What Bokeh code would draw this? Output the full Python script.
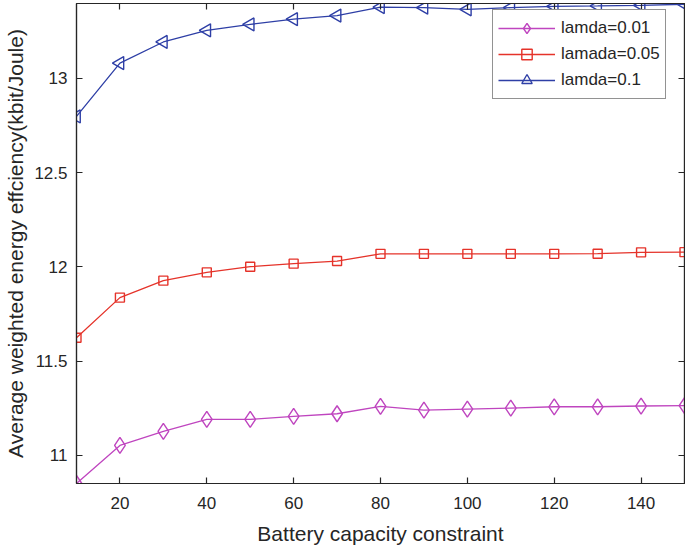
import math
from bokeh.plotting import figure
from bokeh.models import LinearAxis, Range1d, FixedTicker, Legend, LegendItem
from bokeh.embed import file_html
from bokeh.resources import INLINE

x = [10, 20, 30, 40, 50, 60, 70, 80, 90, 100, 110, 120, 130, 140, 150]
lam_001 = [10.851, 11.053, 11.127, 11.191, 11.191, 11.207, 11.221, 11.260, 11.240,
           11.246, 11.251, 11.258, 11.258, 11.262, 11.264]
lam_005 = [11.624, 11.837, 11.927, 11.971, 12.001, 12.017, 12.031, 12.069, 12.069,
           12.069, 12.069, 12.069, 12.070, 12.077, 12.078]
lam_01 = [12.798, 13.081, 13.193, 13.255, 13.286, 13.314, 13.333, 13.378, 13.375,
          13.366, 13.375, 13.382, 13.384, 13.387, 13.393]
x_ticks = [20, 40, 60, 80, 100, 120, 140]
y_ticks = [11, 11.5, 12, 12.5, 13]
y_tick_labels = {11: "11", 11.5: "11.5", 12: "12", 12.5: "12.5", 13: "13"}
names = ["lamda=0.01", "lamada=0.05", "lamda=0.1"]

MAG = "#BF45BF"
RED = "#E5332A"
BLUE = "#2E3FA6"
AX = "#262626"
FONT = "Liberation Sans"

p = figure(width=685, height=552, output_backend="svg", toolbar_location=None,
           x_range=Range1d(10, 150), y_range=Range1d(10.851, 13.397),
           min_border_left=76, min_border_right=1, min_border_top=3, min_border_bottom=69)
p.xgrid.visible = False
p.ygrid.visible = False
p.outline_line_color = AX
p.outline_line_width = 1.2
p.background_fill_color = "white"
p.border_fill_color = "white"

def style_axis(ax, labels=True):
    ax.axis_line_color = AX
    ax.axis_line_width = 1.2
    ax.major_tick_line_color = AX
    ax.major_tick_line_width = 1.2
    ax.major_tick_in = 6
    ax.major_tick_out = 0
    ax.minor_tick_line_color = None
    if labels:
        ax.major_label_text_font = FONT
        ax.major_label_text_font_size = "17px"
        ax.major_label_text_color = AX
        ax.axis_label_text_font = FONT
        ax.axis_label_text_font_size = "21px"
        ax.axis_label_text_font_style = "normal"
        ax.axis_label_text_color = AX
    else:
        ax.major_label_text_font_size = "1px"
        ax.major_label_standoff = 0

xa = p.xaxis[0]
xa.ticker = FixedTicker(ticks=x_ticks)
xa.axis_label = "Battery capacity constraint"
style_axis(xa)
xa.major_label_standoff = 13
xa.axis_label_standoff = 10

ya = p.yaxis[0]
ya.ticker = FixedTicker(ticks=y_ticks)
ya.major_label_overrides = y_tick_labels
ya.axis_label = "Average weighted energy effciency(kbit/Joule)"
style_axis(ya)
ya.major_label_standoff = 9
ya.axis_label_standoff = 4

top = LinearAxis(ticker=FixedTicker(ticks=x_ticks),
                 major_label_overrides={t: "" for t in x_ticks})
style_axis(top, labels=False)
p.add_layout(top, "above")
right = LinearAxis(ticker=FixedTicker(ticks=y_ticks),
                   major_label_overrides={t: "" for t in y_ticks})
style_axis(right, labels=False)
p.add_layout(right, "right")

r1l = p.line(x, lam_001, line_color=MAG, line_width=1.3)
r1m = p.scatter(x, lam_001, marker="diamond", size=16, fill_color=None,
                line_color=MAG, line_width=1.4)
r2l = p.line(x, lam_005, line_color=RED, line_width=1.3)
r2m = p.scatter(x, lam_005, marker="square", size=9, fill_color=None,
                line_color=RED, line_width=1.4)
r3l = p.line(x, lam_01, line_color=BLUE, line_width=1.3)
r3m = p.scatter(x, lam_01, marker="triangle", size=13, angle=math.pi / 2,
                fill_color=None, line_color=BLUE, line_width=1.4)

legend = Legend(items=[LegendItem(label=names[0], renderers=[r1l, r1m]),
                       LegendItem(label=names[1], renderers=[r2l, r2m]),
                       LegendItem(label=names[2], renderers=[r3l, r3m])],
                location=(416, 384))
legend.label_text_font = FONT
legend.label_text_font_size = "17px"
legend.label_text_color = AX
legend.border_line_color = AX
legend.border_line_width = 1.2
legend.background_fill_color = "white"
legend.background_fill_alpha = 1
legend.glyph_width = 57
legend.glyph_height = 26
legend.label_height = 18
legend.label_standoff = 6
legend.spacing = -3
legend.padding = 5
legend.margin = 0
p.add_layout(legend, "center")

open("out.html", "w").write(file_html(p, INLINE))
